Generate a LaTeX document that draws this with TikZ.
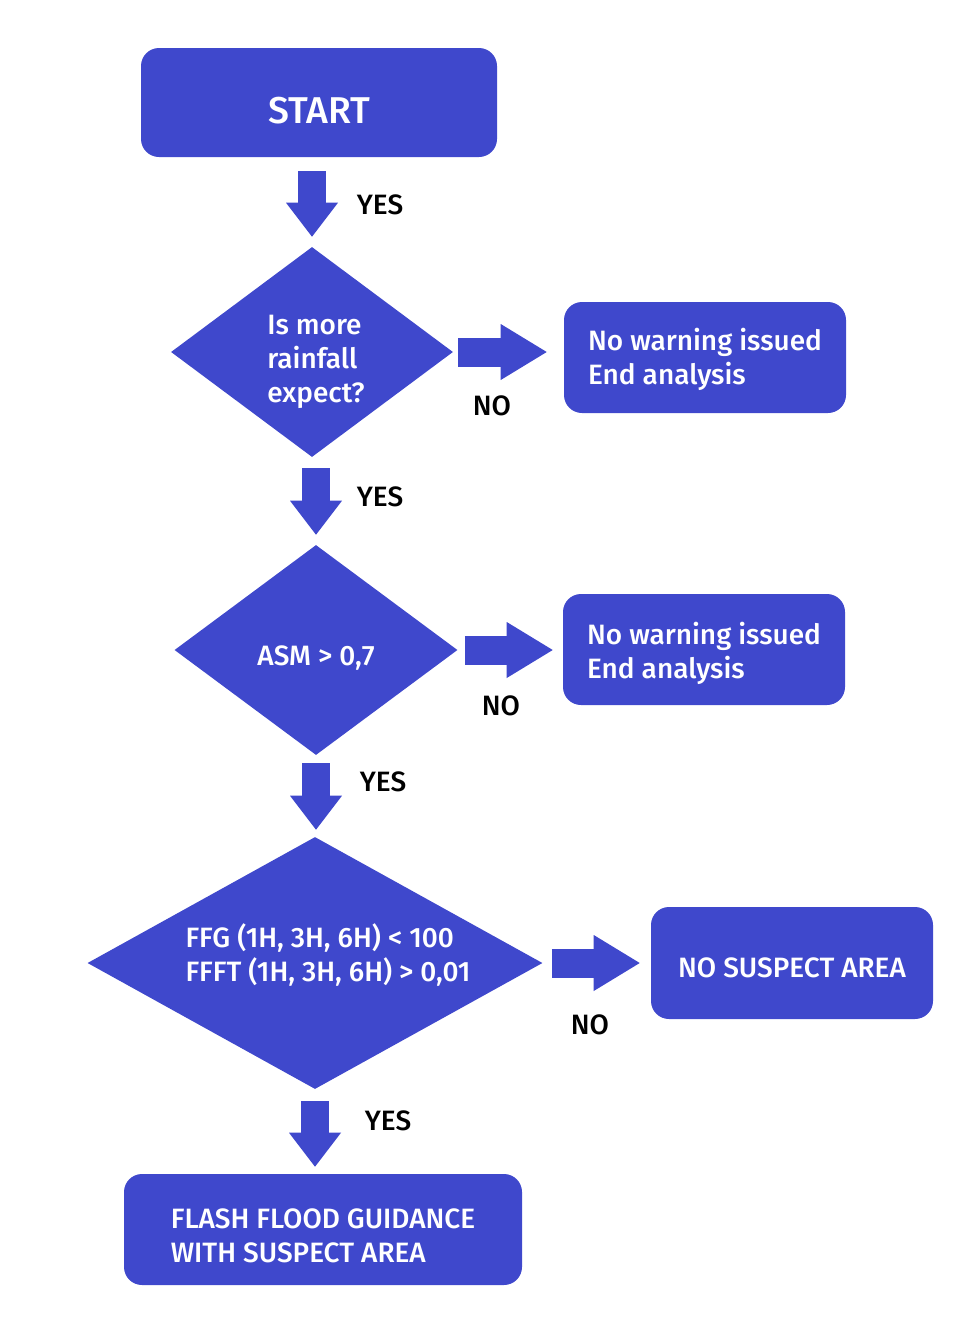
\documentclass[tikz,border=0pt]{standalone}
\usepackage{fontspec}
\setmainfont{Fira Sans Medium}
\usetikzlibrary{shapes.geometric,arrows.meta}
\definecolor{flowblue}{RGB}{63,72,204}

% struts to move a node text down (top) or up (bottom)
\newcommand{\toppad}[1]{\rule{0pt}{#1}}
\newcommand{\botpad}[1]{\rule[-#1]{0pt}{#1}}

\tikzset{
	txt/.style={font=\fontsize{21}{25.5}\selectfont},
	box/.style={txt, fill=flowblue, text=white, rounded corners=13.5pt, inner sep=0pt, align=left},
	question/.style={txt, diamond, fill=flowblue, text=white, inner sep=0pt, align=left},
	downarrow/.style={flowblue, line width=21pt, -{Triangle[width=39pt,length=25.5pt,line width=0pt 0 0]}},
	rightarrow/.style={flowblue, line width=21.75pt, -{Triangle[width=42pt,length=34.5pt,line width=0pt 0 0]}},
	lbl/.style={txt, text=black}
}

\begin{document}
\begin{tikzpicture}[x=0.75pt,y=-0.75pt]
	\useasboundingbox (0,0) rectangle (967,1328);
	% boxes
	\node[box, minimum width=267pt, minimum height=81.75pt, font=\fontsize{28}{32}\selectfont] (start) at (319,102.5) {\toppad{31.5pt}START};
	\node[box, minimum width=211.5pt, minimum height=83.25pt] (warn1) at (705,357.5) {\toppad{19pt}No warning issued\\End analysis};
	\node[box, minimum width=211.5pt, minimum height=83.25pt] (warn2) at (704,649.5) {\toppad{22pt}No warning issued\\End analysis};
	\node[box, minimum width=211.5pt, minimum height=84pt] (nosusp) at (792,963) {\toppad{22.3pt}NO SUSPECT AREA};
	\node[box, minimum width=298.5pt, minimum height=83.25pt] (ffg) at (323,1229.5) {\toppad{24pt}FLASH FLOOD GUIDANCE\\WITH SUSPECT AREA};
	% questions
	\node[question, aspect=1.34, minimum width=211.5pt, minimum height=157.5pt] (rain) at (312,352) {\toppad{29.4pt}\hspace*{6pt}Is more\\\hspace*{6pt}rainfall\\\hspace*{6pt}expect?};
	\node[question, aspect=1.35, minimum width=212.25pt, minimum height=157.5pt] (asm) at (316,650) {\toppad{26.8pt}ASM > 0,7};
	\node[question, aspect=1.8, minimum width=341.25pt, minimum height=189pt] (ffgq) at (315,963) {\hspace*{19.5pt}FFG (1H, 3H, 6H) < 100\\\hspace*{19.5pt}FFFT (1H, 3H, 6H) > 0,01\botpad{15pt}};
	% down arrows
	\draw[downarrow, shorten <=10.5pt, shorten >=7.5pt] (start.south -| rain.north) -- (rain.north);
	\draw[downarrow, shorten <=8.25pt, shorten >=7.5pt] (rain.south -| asm.north) -- (asm.north);
	\draw[downarrow, shorten <=6pt, shorten >=5.25pt] (asm.south) -- (asm.south |- ffgq.north);
	\draw[downarrow, shorten <=9pt, shorten >=5.25pt] (ffgq.south) -- (ffgq.south |- ffg.north);
	% right arrows
	\draw[rightarrow, shorten <=3.75pt, shorten >=12.75pt] (rain.east) -- (rain.east -| warn1.west);
	\draw[rightarrow, shorten <=5.25pt, shorten >=7.5pt] (asm.east) -- (asm.east -| warn2.west);
	\draw[rightarrow, shorten <=6.75pt, shorten >=8.25pt] (ffgq.east) -- (ffgq.east -| nosusp.west);
	% labels
	\node[lbl] (yes1) at (380,205) {YES};
	\node[lbl] (yes2) at (380,497) {YES};
	\node[lbl] (yes3) at (383,782) {YES};
	\node[lbl] (yes4) at (388,1121) {YES};
	\node[lbl] (no1) at (492,406) {NO};
	\node[lbl] (no2) at (501,706) {NO};
	\node[lbl] (no3) at (590,1025) {NO};
\end{tikzpicture}
\end{document}
